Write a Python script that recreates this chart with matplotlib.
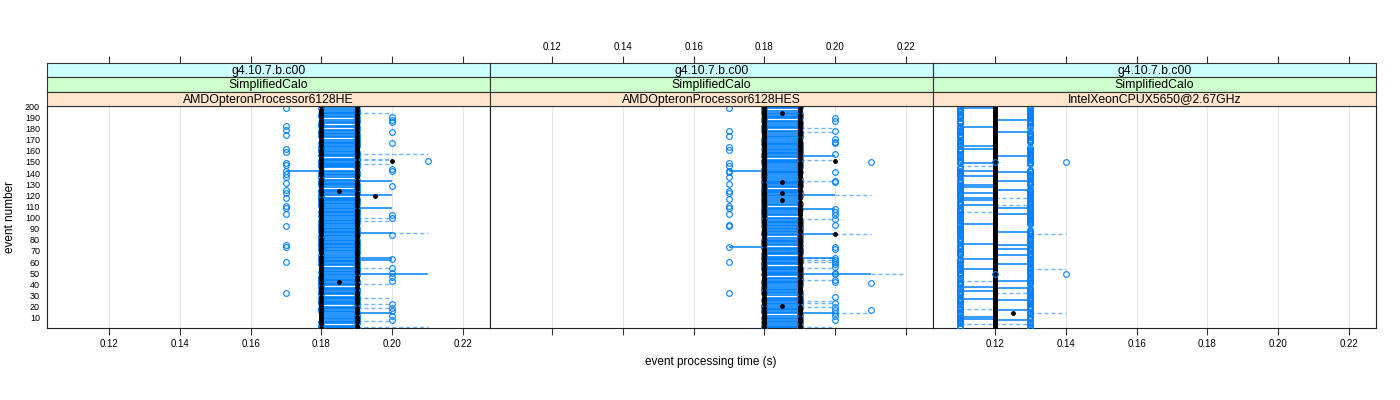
import numpy as np
import matplotlib.pyplot as plt

plt.rcParams['font.family'] = ['Liberation Sans', 'DejaVu Sans']

# ---- data ----
events = np.arange(1, 201)
x_ticks = [0.12, 0.14, 0.16, 0.18, 0.20, 0.22]
y_ticks = list(range(10, 201, 10))
strip_top = "g4.10.7.b.c00"
strip_mid = "SimplifiedCalo"
machines = ["AMDOpteronProcessor6128HE", "AMDOpteronProcessor6128HES",
            "IntelXeonCPUX5650@2.67GHz"]

# panel 1: median per event, '8' -> 0.18 s, '9' -> 0.19 s (event 1 .. 200)
p1_median = ("8998898988 9889898998 8898998989 9898889899 8989989889 "
             "9898898998 8989899898 9889898998 8998989889 8989899898 "
             "9898989889 8899898989 8989898998 9898899898 8989899889 "
             "9889898989 8998989898 9898898989 8989989898 9898898998")
# events where all runs gave the median (no 0.18-0.19 spread)
p1_flat = [199, 196, 192, 189, 187, 184, 183, 180, 177, 174, 171, 169, 165,
           161, 158, 154, 150, 144, 143, 140, 137, 135, 132, 128, 126, 122,
           119, 114, 111, 107, 103, 99, 96, 93, 89, 85, 81, 78, 72, 69, 67,
           63, 59, 56, 53, 50, 46, 42, 38, 34, 30, 26, 21, 17, 14, 11, 8, 4]
p1_c017 = [198, 182, 179, 174, 162, 159, 149, 147, 142, 139, 136, 131, 125,
           122, 118, 110, 109, 103, 92, 75, 74, 60, 32]
p1_c020 = [190, 188, 186, 177, 167, 144, 142, 128, 102, 100, 84, 63, 55, 50,
           47, 43, 22, 19, 16, 12, 8]
p1_c021 = [151]
p1_med_ev = [151, 124, 119, 42]
p1_med_val = [0.20, 0.185, 0.195, 0.185]
p1_solid_ev = [142, 133, 120, 109, 86, 64, 62, 49, 14]
p1_solid_x0 = [0.17, 0.19, 0.19, 0.19, 0.19, 0.19, 0.19, 0.19, 0.19]
p1_solid_x1 = [0.18, 0.20, 0.20, 0.20, 0.20, 0.20, 0.20, 0.21, 0.20]
p1_dash_ev = [194, 157, 153, 152, 148, 100, 97, 86, 55, 40, 28, 22, 19, 7, 2]
p1_dash_x0 = [0.19, 0.19, 0.19, 0.19, 0.19, 0.19, 0.19, 0.20, 0.19, 0.19,
              0.19, 0.19, 0.19, 0.19, 0.19]
p1_dash_x1 = [0.20, 0.21, 0.20, 0.20, 0.20, 0.20, 0.20, 0.21, 0.20, 0.20,
              0.20, 0.20, 0.20, 0.20, 0.21]

# panel 2
p2_median = ("9898898989 8898989989 9889898898 8989998989 9898889898 "
             "8989898998 9898989889 8899898989 9898989898 8989898899 "
             "8998989898 9889898989 8989989898 9898898989 8989898998 "
             "9898989889 8989898998 9889898989 8998989898 8989898989")
p2_flat = [197, 195, 192, 188, 185, 183, 179, 176, 174, 170, 168, 164, 160,
           156, 153, 148, 146, 143, 139, 137, 134, 129, 126, 121, 117, 115,
           113, 110, 106, 104, 101, 98, 94, 89, 86, 83, 81, 77, 74, 70, 66,
           61, 57, 52, 47, 44, 40, 37, 34, 31, 29, 24, 20, 16, 13, 11, 8, 5]
p2_c017 = [198, 178, 173, 163, 161, 149, 146, 142, 141, 136, 130, 124, 122,
           117, 110, 109, 103, 93, 92, 74, 60, 32]
p2_c020 = [189, 187, 178, 171, 168, 167, 157, 141, 133, 132, 108, 105, 102,
           99, 93, 74, 72, 64, 62, 60, 58, 56, 50, 49, 44, 42, 29, 23, 20,
           17, 14, 12, 8]
p2_c021 = [150, 41, 17]
p2_med_ev = [194, 132, 122, 116, 21, 151, 85]
p2_med_val = [0.185, 0.185, 0.185, 0.185, 0.185, 0.20, 0.20]
p2_solid_ev = [142, 74, 155, 120, 108, 85, 64, 49, 14]
p2_solid_x0 = [0.17, 0.17, 0.19, 0.19, 0.19, 0.19, 0.19, 0.19, 0.19]
p2_solid_x1 = [0.18, 0.18, 0.20, 0.20, 0.20, 0.20, 0.20, 0.21, 0.20]
p2_dash_ev = [180, 177, 152, 133, 120, 99, 85, 64, 62, 60, 55, 49, 44, 25,
              23, 20, 14, 2]
p2_dash_x0 = [0.19, 0.19, 0.19, 0.19, 0.20, 0.19, 0.20, 0.19, 0.19, 0.19,
              0.19, 0.21, 0.19, 0.19, 0.19, 0.19, 0.20, 0.19]
p2_dash_x1 = [0.20, 0.20, 0.20, 0.20, 0.21, 0.20, 0.21, 0.20, 0.20, 0.20,
              0.20, 0.22, 0.20, 0.20, 0.20, 0.20, 0.21, 0.20]

# panel 3 (Xeon): median 0.12 s nearly everywhere
p3_median = 0.12
p3_med_ev = [142, 14]
p3_med_val = [0.11, 0.125]
# other runs per event: 'b' 0.11 and 0.13, 'l' 0.11 only, 'h' 0.13 only, '-' none
p3_spread = ("bbbhbbllbb bhbbb-lbbh bbhlbbbbhb lbbbhbb-lb bbbhbbhlbb "
             "bhbbbblbbh bbb-hbbblb hbbbbhhlbb bbhlbbbbbl lllbbbhbbb "
             "bbbhbblbbh lbbbb-hbbb bbhbbbllbh bbb-bhbbbl bbhll--hbb "
             "lhbbbbbhbb bbhllllbbb hbbbbhlbll bb-hbbbhbl bbbhbbbbhb")
p3_c012 = [150, 49]
p3_c014 = [150, 49]
p3_solid_ev = [198, 181, 164, 162, 149, 142, 137, 129, 127, 122, 118, 116,
               111, 94, 76, 63, 54, 38, 34, 27, 11, 9,
               188, 177, 155, 141, 133, 125, 109, 103, 87, 75, 72, 66, 58,
               43, 37, 26, 17, 8]
p3_solid_x0 = [0.11] * 22 + [0.12] * 18
p3_solid_x1 = [0.12] * 22 + [0.13] * 18
p3_dash_ev = [146, 118, 111, 105, 85, 54, 43, 32, 18, 14, 4]
p3_dash_x0 = [0.11, 0.12, 0.12, 0.11, 0.13, 0.13, 0.11, 0.12, 0.11, 0.13, 0.11]
p3_dash_x1 = [0.12, 0.13, 0.13, 0.12, 0.14, 0.14, 0.12, 0.13, 0.12, 0.14, 0.13]

# ---- styling ----
BLUE = '#0080ff'
LBLUE = '#72b6ff'
XLIM = (0.1025, 0.2276)
YLIM = (0.8, 200.2)
W, H = 1400.0, 400.0
circ = dict(linestyle='none', marker='o', mfc='none', mec=BLUE, ms=4.1, mew=0.8)
dot = dict(linestyle='none', marker='o', color='black', ms=3.5, mew=0)


def decode(code):
    s = code.replace(' ', '')
    return np.array([0.18 if c == '8' else 0.19 for c in s])


def draw_common(ax, solid, dashed):
    for x in x_ticks:
        ax.axvline(x, color='#e6e6e6', lw=0.8, zorder=0)
    ev, x0, x1 = dashed
    ax.hlines(ev, x0, x1, colors=LBLUE, lw=1.0, linestyles=(0, (3, 2)), zorder=1)
    ev, x0, x1 = solid
    ax.hlines(ev, x0, x1, colors=BLUE, lw=1.1, zorder=2)


def draw_amd(ax, code, flat, c017, c020, c021, med_ev, med_val, solid, dashed):
    med = decode(code)
    other = np.where(med == 0.18, 0.19, 0.18)
    paired = ~np.isin(events, flat)
    draw_common(ax, solid, dashed)
    ax.hlines(events[paired], 0.18, 0.19, colors=BLUE, lw=1.2, zorder=2)
    ax.plot(other[paired], events[paired], zorder=3, **circ)
    fixed = np.isin(events, med_ev)
    ax.plot(np.full(fixed.sum(), 0.18), events[fixed], zorder=3, **circ)
    ax.plot(np.full(len(c017), 0.17), c017, zorder=3, **circ)
    ax.plot(np.full(len(c020), 0.20), c020, zorder=3, **circ)
    ax.plot(np.full(len(c021), 0.21), c021, zorder=3, **circ)
    med = med.copy()
    for e, v in zip(med_ev, med_val):
        med[e - 1] = v
    ax.plot(med, events, zorder=4, **dot)


def draw_xeon(ax):
    draw_common(ax, (p3_solid_ev, p3_solid_x0, p3_solid_x1),
                (p3_dash_ev, p3_dash_x0, p3_dash_x1))
    med = np.full(len(events), p3_median)
    for e, v in zip(p3_med_ev, p3_med_val):
        med[e - 1] = v
    ax.plot(med, events, zorder=3, **dot)
    spread = np.array(list(p3_spread.replace(' ', '')))
    lo = np.isin(spread, ['b', 'l'])
    hi = np.isin(spread, ['b', 'h'])
    ax.plot(np.full(lo.sum(), 0.11), events[lo], zorder=4, **circ)
    ax.plot(np.full(hi.sum(), 0.13), events[hi], zorder=4, **circ)
    ax.plot(np.full(len(p3_c012), 0.12), p3_c012, zorder=4, **circ)
    ax.plot(np.full(len(p3_c014), 0.14), p3_c014, zorder=4, **circ)


fig = plt.figure(figsize=(14, 4), dpi=100)
lefts = [47, 490, 933]
pw = 443
top, bottom = 106, 328
strip_y = [63, 77.3, 91.7, 106]
strip_cols = ['#ccffff', '#ccffcc', '#ffe5cc']

for i, left in enumerate(lefts):
    ax = fig.add_axes([left / W, 1 - bottom / H, pw / W, (bottom - top) / H])
    if i < 2:
        draw_amd(ax, [p1_median, p2_median][i], [p1_flat, p2_flat][i],
                 [p1_c017, p2_c017][i], [p1_c020, p2_c020][i],
                 [p1_c021, p2_c021][i], [p1_med_ev, p2_med_ev][i],
                 [p1_med_val, p2_med_val][i],
                 [(p1_solid_ev, p1_solid_x0, p1_solid_x1),
                  (p2_solid_ev, p2_solid_x0, p2_solid_x1)][i],
                 [(p1_dash_ev, p1_dash_x0, p1_dash_x1),
                  (p2_dash_ev, p2_dash_x0, p2_dash_x1)][i])
    else:
        draw_xeon(ax)
    ax.set_xlim(XLIM)
    ax.set_ylim(YLIM)
    ax.set_xticks(x_ticks)
    ax.set_xticklabels(['%.2f' % t for t in x_ticks])
    ax.tick_params(axis='x', length=5, width=0.8, color='#333333', pad=3,
                   labelsize=7, labelbottom=(i != 1))
    if i == 0:
        ax.set_yticks(y_ticks)
        ax.tick_params(axis='y', length=0, pad=5, labelsize=6.5)
    else:
        ax.set_yticks([])
    for sp in ax.spines.values():
        sp.set_color('#222222')
        sp.set_linewidth(0.8)

    # strips, top to bottom: version, benchmark, machine
    texts = [strip_top, strip_mid, machines[i]]
    for k in range(3):
        y0, y1 = strip_y[k], strip_y[k + 1]
        sax = fig.add_axes([left / W, 1 - y1 / H, pw / W, (y1 - y0) / H])
        sax.set_facecolor(strip_cols[k])
        sax.set_xlim(XLIM)
        sax.set_yticks([])
        sax.text(0.5, 0.45, texts[k], transform=sax.transAxes, ha='center',
                 va='center', fontsize=8.8)
        for sp in sax.spines.values():
            sp.set_color('#333333')
            sp.set_linewidth(0.8)
        if k == 0:
            sax.set_xticks(x_ticks)
            sax.set_xticklabels(['%.2f' % t for t in x_ticks])
            sax.tick_params(axis='x', top=True, bottom=False, labelbottom=False,
                            labeltop=(i == 1), length=5, width=0.8,
                            color='#333333', pad=3, labelsize=7)
        else:
            sax.set_xticks([])

fig.text(711 / W, 1 - 362 / H, 'event processing time (s)', ha='center',
         va='center', fontsize=8.5)
fig.text(10 / W, 1 - 217 / H, 'event number', ha='center', va='center',
         rotation=90, fontsize=8.5)

fig.savefig('out.png', dpi=100)
